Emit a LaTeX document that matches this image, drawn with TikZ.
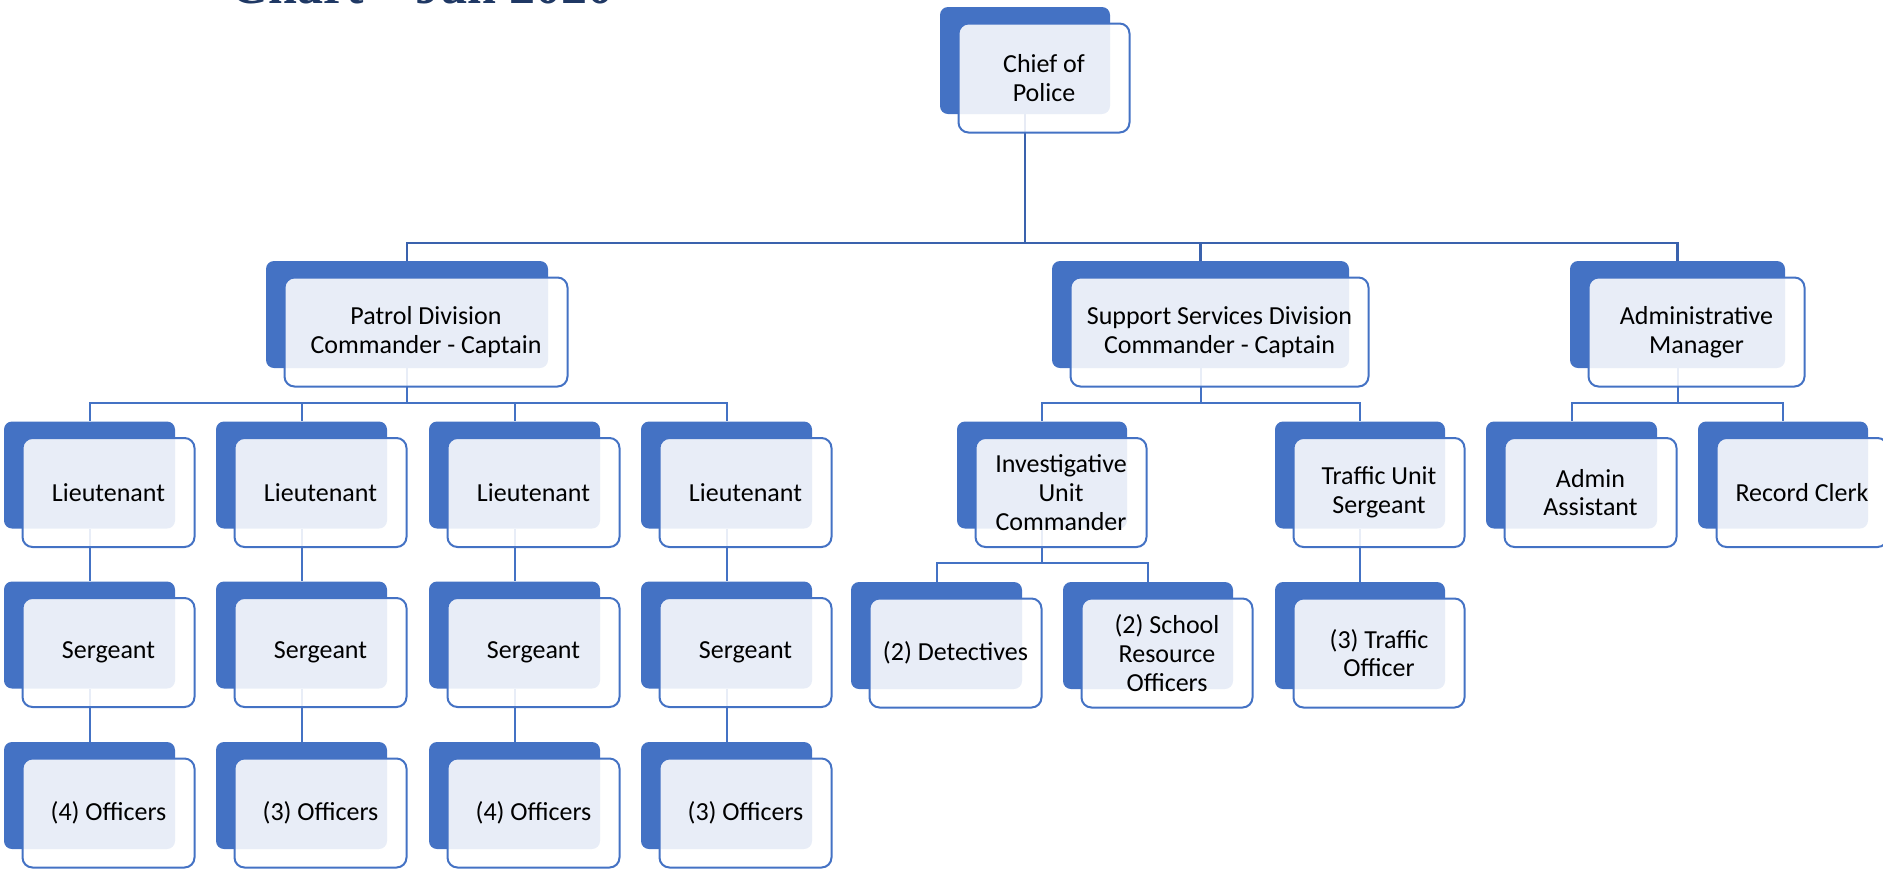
\documentclass[tikz,border=0pt]{standalone}
\usepackage{fontspec}
\setmainfont{Carlito}
\newfontfamily\titlefont{Liberation Serif}
\usetikzlibrary{calc}
\definecolor{acc}{HTML}{4472C4}
\definecolor{accd}{HTML}{3A62AD}
\definecolor{navy}{HTML}{1F3864}
\pgfdeclarelayer{bg}
\pgfsetlayers{bg,main}
\tikzset{
  backbox/.style={draw=none, fill=acc, rounded corners=4pt, minimum height=53.5pt, inner sep=0pt},
  frontbox/.style={draw=acc, line width=1pt, fill=white, fill opacity=0.88, text opacity=1,
    rounded corners=5pt, minimum height=54.5pt, inner sep=0pt, align=center,
    font=\fontsize{13}{14.3}\selectfont},
  conn/.style={draw=acc, line width=1pt},
  topconn/.style={draw=accd, line width=1.2pt},
}
% name, left, top, width, text
\newcommand\orgbox[5]{%
  \node[backbox, minimum width=#4*0.5pt] (#1) at (#2+#4/2, #3+53.5) {};
  \node[frontbox, minimum width=#4*0.5pt+0.5pt] (#1f) at (#2+#4/2+19, #3+53.5+17.5) {#5};
}
\begin{document}
\begin{tikzpicture}[x=0.5pt, y=-0.5pt]
\useasboundingbox (0,0) rectangle (1883,869);
\clip (0,0) rectangle (1883,869);

\node[anchor=base east, text=navy, inner sep=0pt,
  font=\titlefont\bfseries\fontsize{26}{26}\selectfont] (title) at (614,3) {Chart – Jan 2020};

\orgbox{chief}{940}{7}{170}{Chief of\\Police}
\orgbox{patrol}{266}{261}{282}{Patrol Division\\Commander - Captain}
\orgbox{support}{1052}{261}{297}{Support Services Division\\Commander - Captain}
\orgbox{adminmgr}{1570}{261}{215}{Administrative\\Manager}

\orgbox{lta}{4}{421.5}{171}{Lieutenant}
\orgbox{ltb}{216}{421.5}{171}{Lieutenant}
\orgbox{ltc}{429}{421.5}{171}{Lieutenant}
\orgbox{ltd}{641}{421.5}{171}{Lieutenant}

\orgbox{sga}{4}{581.5}{171}{Sergeant}
\orgbox{sgb}{216}{581.5}{171}{Sergeant}
\orgbox{sgc}{429}{581.5}{171}{Sergeant}
\orgbox{sgd}{641}{581.5}{171}{Sergeant}

\orgbox{ofa}{4}{742}{171}{(4) Officers}
\orgbox{ofb}{216}{742}{171}{(3) Officers}
\orgbox{ofc}{429}{742}{171}{(4) Officers}
\orgbox{ofd}{641}{742}{171}{(3) Officers}

\orgbox{invest}{957}{421.5}{170}{Investigative\\Unit\\Commander}
\orgbox{traffic}{1275}{421.5}{170}{Traffic Unit\\Sergeant}
\orgbox{detect}{851}{582}{171}{(2) Detectives}
\orgbox{school}{1063}{582}{170}{(2) School\\Resource\\Officers}
\orgbox{trofficer}{1275}{582}{170}{(3) Traffic\\Officer}

\orgbox{asst}{1486}{421.5}{171}{Admin\\Assistant}
\orgbox{clerk}{1698}{421.5}{170}{Record Clerk}

\coordinate (h1) at (0,243);
\coordinate (h2) at (0,403);
\coordinate (h3) at (0,563);

\begin{pgfonlayer}{bg}
  \draw[topconn] (chief.south) -- (chief.south |- h1) -| (patrol.north);
  \draw[topconn] (chief.south |- h1) -| (support.north);
  \draw[topconn] (chief.south |- h1) -| (adminmgr.north);

  \draw[conn] (patrol.south) -- (patrol.south |- h2) -| (lta.north);
  \draw[conn] (patrol.south |- h2) -| (ltb.north);
  \draw[conn] (patrol.south |- h2) -| (ltc.north);
  \draw[conn] (patrol.south |- h2) -| (ltd.north);

  \draw[conn] (lta.south) -- (sga.north);
  \draw[conn] (ltb.south) -- (sgb.north);
  \draw[conn] (ltc.south) -- (sgc.north);
  \draw[conn] (ltd.south) -- (sgd.north);
  \draw[conn] (sga.south) -- (ofa.north);
  \draw[conn] (sgb.south) -- (ofb.north);
  \draw[conn] (sgc.south) -- (ofc.north);
  \draw[conn] (sgd.south) -- (ofd.north);

  \draw[conn] (support.south) -- (support.south |- h2) -| (invest.north);
  \draw[conn] (support.south |- h2) -| (traffic.north);
  \draw[conn] (invest.south) -- (invest.south |- h3) -| (detect.north);
  \draw[conn] (invest.south |- h3) -| (school.north);
  \draw[conn] (traffic.south) -- (trofficer.north);

  \draw[conn] (adminmgr.south) -- (adminmgr.south |- h2) -| (asst.north);
  \draw[conn] (adminmgr.south |- h2) -| (clerk.north);
\end{pgfonlayer}
\end{tikzpicture}
\end{document}
